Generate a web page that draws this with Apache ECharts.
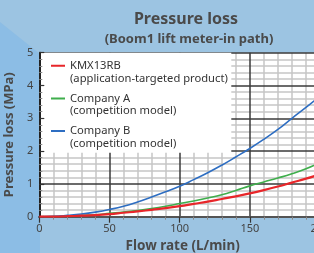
<!DOCTYPE html>
<html>
<head>
<meta charset="utf-8">
<script src="https://cdn.jsdelivr.net/npm/echarts@6/dist/echarts.min.js"></script>
<style>
  html, body { margin: 0; padding: 0; }
  #chart { width: 314px; height: 253px; }
</style>
</head>
<body>
<div id="chart"></div>
<script>
  // flow rate (L/min)
  var flow = [0, 10, 20, 30, 40, 50, 60, 70, 80, 90, 100, 110, 120, 130, 140, 150, 160, 170, 180, 190, 200];
  // pressure loss (MPa)
  var kmx13rb = [0, 0.004, 0.015, 0.03, 0.05, 0.08, 0.12, 0.16, 0.21, 0.26, 0.32, 0.39, 0.46, 0.54, 0.62, 0.71, 0.81, 0.92, 1.04, 1.16, 1.29];
  var companyA = [0, 0.005, 0.02, 0.04, 0.06, 0.1, 0.14, 0.19, 0.25, 0.32, 0.40, 0.48, 0.57, 0.67, 0.8, 0.94, 1.06, 1.18, 1.31, 1.46, 1.65];
  var companyB = [0, 0.01, 0.04, 0.08, 0.14, 0.22, 0.32, 0.45, 0.6, 0.76, 0.93, 1.13, 1.34, 1.57, 1.82, 2.08, 2.36, 2.66, 3.0, 3.33, 3.68];

  var seriesNames = ['KMX13RB', 'Company A', 'Company B'];
  var legendLabels = {
    'KMX13RB': 'KMX13RB\n(application-targeted product)',
    'Company A': 'Company A\n(competition model)',
    'Company B': 'Company B\n(competition model)'
  };
  var colors = ['#e8262a', '#3fae4c', '#2e6ec2'];

  var font = 'Noto Sans';
  var chart = echarts.init(document.getElementById('chart'));

  function pairs(ys) {
    return flow.map(function (x, i) { return [x, ys[i]]; });
  }

  // plot box: x 0..200 -> px 39.3..320 (past the right edge), y 0..5 -> px 216.7..52.7
  var gridLeft = 39.3, gridTop = 52.7;

  var xBase = { type: 'value', min: 0, max: 200, interval: 50 };
  var yBase = { type: 'value', min: 0, max: 5, interval: 1 };
  var off = {
    axisLine: { show: false }, axisTick: { show: false }, axisLabel: { show: false },
    splitLine: { show: false }, minorTick: { show: false }, minorSplitLine: { show: false }
  };
  var majorLine = { show: true, lineStyle: { color: '#3a3a3a', width: 1.5 } };
  var minorLine = { show: true, lineStyle: { color: '#c6c6c6', width: 1.5 } };

  chart.setOption({
    backgroundColor: '#9cc4e2',
    animation: false,
    title: [{
      text: 'Pressure loss',
      left: 181, top: 6, textAlign: 'center',
      textStyle: { fontFamily: font, fontSize: 16, fontWeight: 'bold', color: '#4a4a4a' }
    }, {
      text: '(Boom1 lift meter-in path)',
      left: 184, top: 28, textAlign: 'center',
      textStyle: { fontFamily: font, fontSize: 13, fontWeight: 'bold', color: '#4a4a4a' }
    }],
    graphic: [{
      type: 'polygon', z: -10, silent: true,
      shape: { points: [[0, 22], [40, 54], [40, 253], [0, 253]] },
      style: { fill: '#8cbde5' }
    }, {
      type: 'rect', z: 2, silent: true,
      shape: { x: gridLeft, y: gridTop, width: 192, height: 100 },
      style: { fill: '#ffffff' }
    }],
    legend: {
      orient: 'vertical',
      left: 51, top: 59.3,
      padding: 0, z: 5,
      itemWidth: 14, itemHeight: 25.4, itemGap: 7.3,
      icon: 'path://M0,5.4L14,5.4L14,7.4L0,7.4Z M0,0L0.01,0L0,0.01Z M0,25.4L0.01,25.4L0,25.39Z',
      data: seriesNames,
      formatter: function (name) { return legendLabels[name]; },
      textStyle: { fontFamily: font, fontSize: 11.2, lineHeight: 12.7, color: '#333' }
    },
    grid: {
      left: gridLeft, top: gridTop, width: 280.7, height: 164,
      containLabel: false, outerBoundsMode: 'none',
      show: true, backgroundColor: '#ffffff', borderWidth: 0
    },
    xAxis: [
      // labels, name and minor grid
      Object.assign({}, xBase, off, {
        position: 'bottom', z: 0,
        axisLine: { show: true, lineStyle: { color: '#222', width: 2 } },
        axisLabel: { show: true, margin: 7, fontFamily: font, fontSize: 11, color: '#444' },
        minorTick: { show: false, splitNumber: 5 },
        minorSplitLine: minorLine,
        name: 'Flow rate (L/min)', nameLocation: 'middle', nameGap: 21,
        nameTextStyle: { fontFamily: font, fontSize: 13.5, fontWeight: 'bold', color: '#4a4a4a', padding: [0, 0, 0, 6] }
      }),
      // major grid
      Object.assign({}, xBase, off, { position: 'bottom', z: 1, splitLine: majorLine }),
      // top border with inside ticks
      Object.assign({}, xBase, off, {
        position: 'top', z: 4,
        axisLine: { show: true, lineStyle: { color: '#555', width: 2 } },
        axisTick: { show: true, inside: true, length: 6, lineStyle: { color: '#333', width: 1.2 } },
        minorTick: { show: true, splitNumber: 5, length: 3, lineStyle: { color: '#888', width: 1 } }
      })
    ],
    yAxis: [
      Object.assign({}, yBase, off, {
        position: 'left', z: 0,
        axisLabel: { show: true, margin: 6, fontFamily: font, fontSize: 11, color: '#444' },
        minorTick: { show: false, splitNumber: 5 },
        minorSplitLine: minorLine,
        name: 'Pressure loss (MPa)', nameLocation: 'middle', nameGap: 15,
        nameTextStyle: { fontFamily: font, fontSize: 13, fontWeight: 'bold', color: '#4a4a4a' }
      }),
      Object.assign({}, yBase, off, { position: 'left', z: 1, splitLine: majorLine }),
      Object.assign({}, yBase, off, {
        position: 'left', z: 4,
        axisLine: { show: true, lineStyle: { color: '#222', width: 2 } },
        axisTick: { show: true, inside: true, length: 5, lineStyle: { color: '#333', width: 1.2 } },
        minorTick: { show: true, splitNumber: 5, length: 3, lineStyle: { color: '#888', width: 1 } }
      })
    ],
    series: [{
      name: seriesNames[0], type: 'line', smooth: true, showSymbol: false, z: 4,
      data: pairs(kmx13rb), color: colors[0], lineStyle: { width: 2.2 }
    }, {
      name: seriesNames[1], type: 'line', smooth: true, showSymbol: false, z: 3,
      data: pairs(companyA), color: colors[1], lineStyle: { width: 1.6 }
    }, {
      name: seriesNames[2], type: 'line', smooth: true, showSymbol: false, z: 3,
      data: pairs(companyB), color: colors[2], lineStyle: { width: 1.6 }
    }]
  });
</script>
</body>
</html>
